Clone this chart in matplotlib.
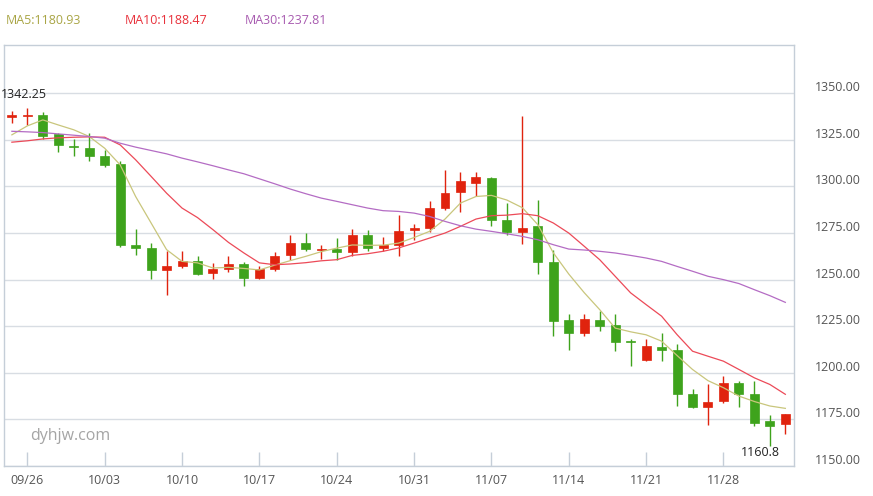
import matplotlib
matplotlib.use("Agg")
import matplotlib.pyplot as plt
from matplotlib.transforms import ScaledTranslation
import pandas as pd
import numpy as np

# ---- data ----
dates = pd.bdate_range("2016-09-23", "2016-12-02")
opens = [1337.4, 1337.8, 1338.4, 1328.0, 1321.6, 1320.5, 1316.4, 1312.0, 1268.75, 1267.0,
         1255.0, 1257.1, 1260.2, 1253.4, 1255.5, 1258.6, 1250.7, 1255.5, 1263.0, 1269.8,
         1265.9, 1266.6, 1264.6, 1274.1, 1266.8, 1268.4, 1276.4, 1277.5, 1288.2, 1297.1,
         1302.1, 1304.6, 1282.1, 1275.7, 1278.6, 1259.6, 1228.6, 1221.25, 1228.6, 1225.4,
         1216.8, 1207.1, 1214.1, 1212.5, 1188.4, 1181.6, 1184.8, 1194.6, 1188.9, 1173.9, 1172.7]
closes = [1337.6, 1338.0, 1327.3, 1322.0, 1321.0, 1316.1, 1311.6, 1268.4, 1267.0, 1255.0,
          1257.5, 1260.0, 1253.0, 1255.9, 1258.6, 1250.7, 1255.7, 1262.9, 1269.8, 1266.25,
          1266.6, 1264.6, 1274.1, 1266.8, 1268.75, 1276.25, 1277.9, 1288.6, 1296.6, 1303.0,
          1305.2, 1281.8, 1275.7, 1277.9, 1259.3, 1227.7, 1221.4, 1229.1, 1225.0, 1216.4,
          1216.4, 1214.6, 1212.1, 1188.6, 1181.4, 1184.1, 1194.3, 1188.75, 1173.2, 1171.4, 1177.7]
highs = [1340.7, 1342.25, 1339.8, 1328.6, 1325.4, 1328.6, 1319.6, 1313.75, 1277.1, 1269.6,
         1265.5, 1265.5, 1262.9, 1258.9, 1262.9, 1259.6, 1257.5, 1265.0, 1273.75, 1275.0,
         1268.4, 1272.3, 1277.3, 1276.8, 1272.9, 1284.8, 1280.0, 1292.1, 1308.6, 1307.5,
         1307.5, 1305.0, 1291.25, 1338.0, 1292.5, 1266.1, 1231.6, 1231.6, 1233.4, 1231.6,
         1218.4, 1217.9, 1221.4, 1215.2, 1191.1, 1193.75, 1198.2, 1195.5, 1195.5, 1177.1, 1178.0]
lows = [1334.3, 1333.0, 1325.4, 1318.75, 1316.4, 1313.9, 1310.2, 1267.3, 1263.0, 1250.5,
        1241.96, 1256.5, 1252.6, 1250.4, 1253.9, 1246.8, 1250.3, 1254.8, 1260.7, 1265.2,
        1261.25, 1260.7, 1262.5, 1265.2, 1265.5, 1262.5, 1271.4, 1275.7, 1287.5, 1286.1,
        1295.0, 1278.6, 1273.75, 1268.9, 1252.9, 1219.6, 1212.1, 1219.6, 1222.3, 1211.6,
        1203.6, 1206.25, 1206.6, 1182.1, 1181.25, 1172.0, 1183.6, 1181.6, 1171.4, 1160.8, 1167.3]
ma5 = [1327.7, 1332.5, 1335.7, 1333.0, 1330.4, 1326.8, 1320.5, 1311.6, 1294.6, 1280.4,
       1266.1, 1259.8, 1259.0, 1256.25, 1256.6, 1256.0, 1255.2, 1257.8, 1260.2, 1262.5,
       1265.0, 1266.9, 1268.6, 1268.4, 1268.5, 1269.6, 1272.6, 1275.9, 1282.5, 1291.1,
       1294.6, 1295.2, 1292.7, 1288.6, 1279.5, 1264.4, 1253.0, 1243.0, 1233.9, 1224.0,
       1222.0, 1220.4, 1217.0, 1209.3, 1201.8, 1195.8, 1192.0, 1187.5, 1184.6, 1182.2, 1180.93]
ma10 = [1323.75, 1324.5, 1325.5, 1326.1, 1326.4, 1326.6, 1326.4, 1322.3, 1314.3, 1305.4,
        1296.4, 1288.4, 1283.3, 1276.8, 1270.0, 1264.3, 1259.0, 1258.0, 1258.4, 1259.1,
        1260.1, 1260.7, 1263.0, 1263.9, 1265.2, 1267.0, 1269.6, 1272.3, 1275.0, 1278.6,
        1282.5, 1284.3, 1284.6, 1285.4, 1284.3, 1280.4, 1275.0, 1267.9, 1260.7, 1251.8,
        1242.9, 1236.6, 1230.4, 1220.5, 1211.6, 1208.9, 1206.25, 1201.8, 1197.3, 1193.75, 1188.47]
ma30 = [1329.6, 1329.3, 1328.9, 1328.2, 1327.5, 1326.8, 1325.9, 1323.2, 1321.1, 1319.3,
        1317.5, 1315.2, 1313.2, 1311.1, 1308.9, 1306.8, 1304.1, 1301.4, 1298.6, 1296.1,
        1293.75, 1292.0, 1290.2, 1288.4, 1287.0, 1286.6, 1285.7, 1283.9, 1281.25, 1278.9,
        1277.1, 1275.9, 1274.6, 1273.2, 1271.4, 1268.75, 1266.4, 1265.9, 1265.2, 1264.3,
        1263.0, 1261.6, 1259.8, 1257.1, 1254.5, 1251.8, 1250.0, 1247.9, 1244.6, 1241.4, 1237.81]
y_ticks = [1150, 1175, 1200, 1225, 1250, 1275, 1300, 1325, 1350]

# ---- style ----
UP = "#e0230e"
DOWN = "#3ea31c"
C_MA5 = "#c9c67c"
C_MA10 = "#ec4a58"
C_MA30 = "#b46cc4"
T_MA5 = "#a9a545"
T_MA10 = "#e8323c"
T_MA30 = "#a85bb0"
GRID = "#d8dde3"
SPINE = "#c5ced8"
TXT = "#555555"
FONT = ["Open Sans", "DejaVu Sans"]

plt.rcParams["font.family"] = FONT

fig = plt.figure(figsize=(8.73, 4.96), dpi=100)
ax = fig.add_axes([4.3 / 873, 1 - 466 / 496, (794.3 - 4.3) / 873, (466 - 45) / 496])

x = np.arange(len(opens))
o = np.array(opens); c = np.array(closes); h = np.array(highs); l = np.array(lows)
up = c >= o
colors = np.where(up, UP, DOWN)

# wicks
ax.vlines(x, l, h, colors=colors, linewidth=1.0, zorder=3)
# bodies
body_bottom = np.minimum(o, c)
body_h = np.maximum(np.abs(c - o), 0.7)
ax.bar(x, body_h, bottom=body_bottom, width=0.58, color=colors, edgecolor=colors,
       linewidth=0.5, zorder=4)

# moving averages
ax.plot(x, ma5, color=C_MA5, linewidth=0.9, zorder=5)
ax.plot(x, ma10, color=C_MA10, linewidth=0.9, zorder=5)
ax.plot(x, ma30, color=C_MA30, linewidth=0.9, zorder=5)

ax.set_xlim(-0.49, 50.58)
ax.set_ylim(1150, 1375.9)

# grid
ax.set_yticks(y_ticks)
ax.yaxis.grid(True, color=GRID, linewidth=1.0)
ax.xaxis.grid(False)
ax.set_axisbelow(True)

# y labels on the right
ax.yaxis.tick_right()
ax.tick_params(axis="y", length=0, pad=15, labelsize=9, labelcolor=TXT)
ax.set_yticklabels([f"{v:.2f}" for v in y_ticks])
for lab in ax.get_yticklabels():
    lab.set_transform(lab.get_transform() + ScaledTranslation(0, 7 / 100, fig.dpi_scale_trans))

# x ticks on Mondays
mon_idx = [i for i, d in enumerate(dates) if d.weekday() == 0]
ax.set_xticks(mon_idx)
ax.set_xticklabels([dates[i].strftime("%m/%d") for i in mon_idx])
ax.tick_params(axis="x", direction="in", length=10, width=1, color=SPINE,
               pad=6, labelsize=9, labelcolor=TXT)

for s in ax.spines.values():
    s.set_color(SPINE)
    s.set_linewidth(1.0)

# high / low labels
imax = int(np.argmax(h)); imin = int(np.argmin(l))
ax.annotate(f"{h[imax]:g}", (imax, h[imax]), xytext=(-2.6, 9.6), textcoords="offset points",
            ha="center", va="center", fontsize=9, color="#222222", annotation_clip=False,
            zorder=6)
ax.annotate(f"{l[imin]:g}", (imin, l[imin]), xytext=(-6.5, -4.8), textcoords="offset points",
            ha="center", va="center", fontsize=9, color="#222222", annotation_clip=False,
            zorder=6)

# watermark
fig.text(30 / 873, 1 - 436 / 496, "dyhjw.com", fontsize=11.5, color="#a5a5a5",
         ha="left", va="center")

# legend texts
fig.text(6 / 873, 1 - 21 / 496, f"MA5:{ma5[-1]:.2f}", fontsize=9, color=T_MA5, ha="left", va="center")
fig.text(125 / 873, 1 - 21 / 496, f"MA10:{ma10[-1]:.2f}", fontsize=9, color=T_MA10, ha="left", va="center")
fig.text(245 / 873, 1 - 21 / 496, f"MA30:{ma30[-1]:.2f}", fontsize=9, color=T_MA30, ha="left", va="center")

fig.savefig("out.png", dpi=100, facecolor="white")
